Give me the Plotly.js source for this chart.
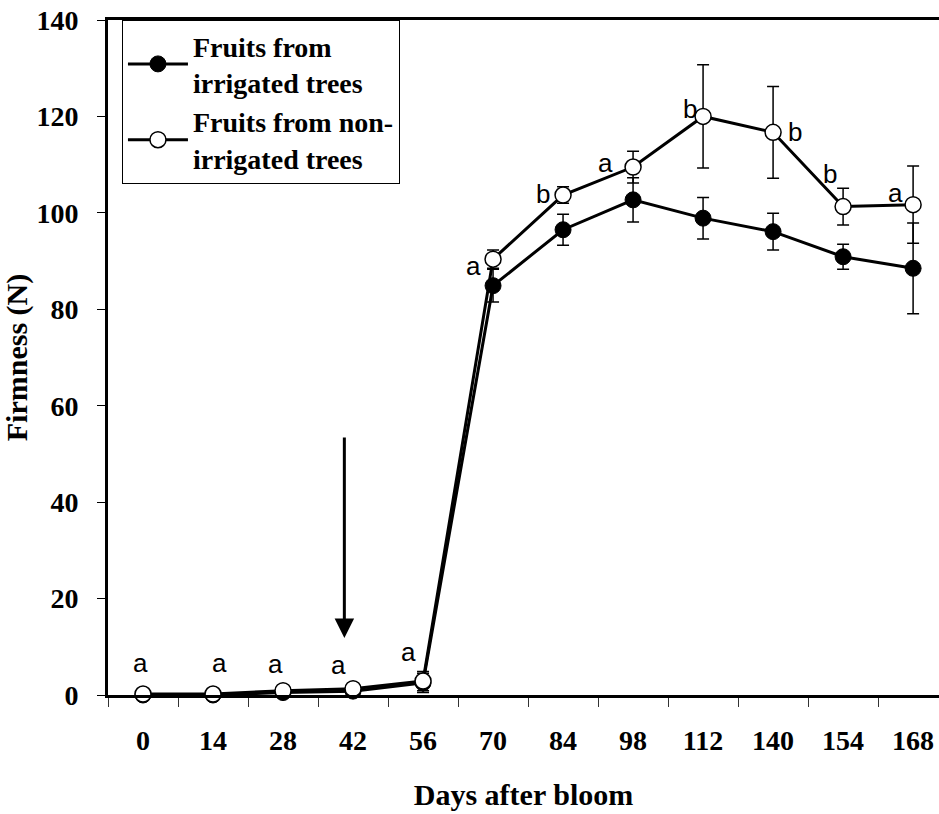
<!DOCTYPE html>
<html>
<head>
<meta charset="utf-8">
<script src="https://cdn.plot.ly/plotly-3.0.1.min.js"></script>
<style>
  html, body { margin: 0; padding: 0; background: #fff; }
  #chart { width: 939px; height: 814px; }
</style>
</head>
<body>
<div id="chart"></div>
<script>
// Days after bloom (evenly spaced categories)
const days = ['0', '14', '28', '42', '56', '70', '84', '98', '112', '140', '154', '168'];

// Firmness (N) of fruits from irrigated trees, with error bars
const irrigated    = [0.0, 0.0, 0.5, 0.8, 2.5, 84.9, 96.5, 102.7, 98.9, 96.1, 90.9, 88.5];
const irrigatedErr = [0.0, 0.0, 0.3, 0.4, 2.0, 3.4, 3.2, 4.6, 4.3, 3.8, 2.6, 9.4];

// Firmness (N) of fruits from non-irrigated trees, with error bars
const nonIrrigated    = [0.2, 0.2, 0.9, 1.3, 2.9, 90.4, 103.7, 109.5, 120.0, 116.7, 101.3, 101.7];
const nonIrrigatedErr = [0.0, 0.0, 0.3, 0.4, 2.0, 1.9, 1.7, 3.3, 10.7, 9.5, 3.8, 8.0];

// Significance letters for each sampling date
const letters = ['a', 'a', 'a', 'a', 'a', 'a', 'b', 'a', 'b', 'b', 'b', 'a'];

// Offsets (px) of each letter from its open marker
const letterDx = [-3, 6, -8, -15, -15, -20, -20, -28, -13, 22, -13, -18];
const letterDy = [31, 31, 27, 24, 29, -7, 1, 4, 7, 0, 33, 12];

const serif = 'Liberation Serif, Times New Roman, serif';
const sans = 'Liberation Sans, Arial, sans-serif';

const errStyle = (arr) => ({
  type: 'data', array: arr, visible: true,
  color: '#000', thickness: 1.5, width: 6
});

const traces = [
  {
    x: days, y: irrigated, type: 'scatter', mode: 'lines+markers',
    name: 'Fruits from<br>irrigated trees',
    line: { color: '#000', width: 3 },
    marker: { symbol: 'circle', size: 16, color: '#000', line: { color: '#000', width: 1 } },
    error_y: errStyle(irrigatedErr),
    cliponaxis: false
  },
  {
    x: days, y: nonIrrigated, type: 'scatter', mode: 'lines+markers',
    name: 'Fruits from non-<br>irrigated trees',
    line: { color: '#000', width: 3 },
    marker: { symbol: 'circle', size: 16, color: '#fff', line: { color: '#000', width: 1.5 } },
    error_y: errStyle(nonIrrigatedErr),
    cliponaxis: false
  }
];

const annotations = letters.map((t, i) => ({
  x: i, y: nonIrrigated[i], xref: 'x', yref: 'y',
  text: t, showarrow: false,
  xshift: letterDx[i], yshift: letterDy[i],
  font: { family: sans, size: 26, color: '#000' }
}));

// Downward arrow marking the start of the treatment
annotations.push({
  x: 2.876, y: 11.8, xref: 'x', yref: 'y',
  ax: 2.876, ay: 53.7, axref: 'x', ayref: 'y',
  showarrow: true, arrowhead: 2, arrowsize: 1.3, arrowwidth: 3,
  arrowcolor: '#000', text: ''
});

const layout = {
  width: 939, height: 814,
  margin: { l: 108, r: 0, t: 20, b: 119 },
  paper_bgcolor: '#fff', plot_bgcolor: '#fff',
  showlegend: true,
  legend: {
    x: 0.0168, y: 1, xanchor: 'left', yanchor: 'top',
    bgcolor: '#fff', bordercolor: '#000', borderwidth: 1,
    itemwidth: 60,
    font: { family: serif, size: 28, color: '#000', weight: 'bold' },
    tracegroupgap: 0
  },
  xaxis: {
    type: 'category',
    range: [-0.5, 11.37],
    showline: true, linecolor: '#000', linewidth: 3, mirror: true,
    showgrid: false, zeroline: false,
    ticks: 'outside', tickson: 'boundaries', ticklen: 9, tickwidth: 1, tickcolor: '#333',
    ticklabelstandoff: 18,
    tickfont: { family: serif, size: 28, color: '#000', weight: 'bold' },
    title: { text: 'Days after bloom', standoff: 30,
             font: { family: serif, size: 30, color: '#000', weight: 'bold' } }
  },
  yaxis: {
    range: [0, 140], dtick: 20,
    showline: true, linecolor: '#000', linewidth: 3,
    showgrid: false, zeroline: false,
    ticks: 'outside', ticklen: 8, tickwidth: 1, tickcolor: '#000',
    ticklabelstandoff: 13,
    tickfont: { family: serif, size: 28, color: '#000', weight: 'bold' },
    title: { text: 'Firmness (N)', standoff: 0,
             font: { family: serif, size: 30, color: '#000', weight: 'bold' } }
  },
  annotations: annotations
};

Plotly.newPlot('chart', traces, layout, { displayModeBar: false, staticPlot: true });
</script>
</body>
</html>
